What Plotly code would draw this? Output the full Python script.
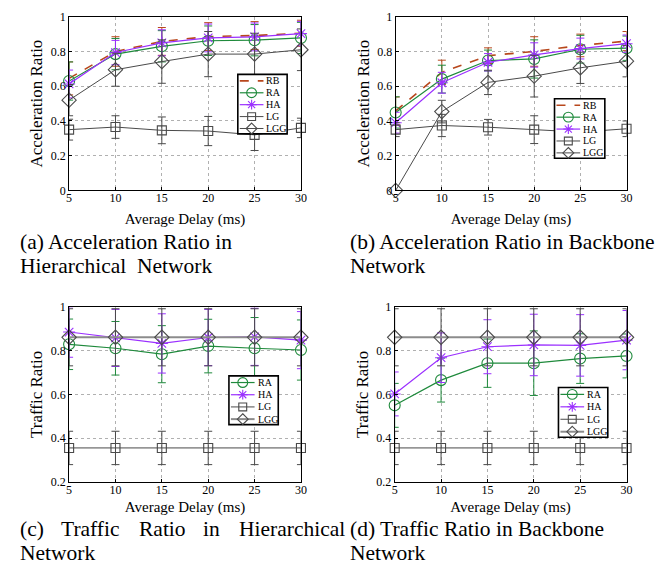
import plotly.graph_objects as go

W, H = 672, 577
delay = [5, 10, 15, 20, 25, 30]
x_ticks = [5, 10, 15, 20, 25, 30]

# (a) Acceleration Ratio in Hierarchical Network
a_RB = [0.645, 0.80, 0.858, 0.886, 0.892, 0.905]
a_RB_err = [0.095, 0.085, 0.08, 0.08, 0.08, 0.075]
a_RA = [0.63, 0.785, 0.83, 0.862, 0.865, 0.878]
a_RA_err = [0.11, 0.09, 0.09, 0.085, 0.09, 0.09]
a_HA = [0.613, 0.794, 0.85, 0.878, 0.884, 0.903]
a_HA_err = [0.08, 0.07, 0.075, 0.08, 0.08, 0.07]
a_LG = [0.35, 0.365, 0.346, 0.342, 0.32, 0.36]
a_LG_err = [0.06, 0.065, 0.077, 0.084, 0.09, 0.056]
a_LGG = [0.52, 0.695, 0.742, 0.785, 0.785, 0.81]
a_LGG_err = [0.09, 0.095, 0.125, 0.13, 0.12, 0.12]

# (b) Acceleration Ratio in Backbone Network
b_RB = [0.458, 0.68, 0.776, 0.80, 0.835, 0.86]
b_RB_err = [0.08, 0.07, 0.045, 0.085, 0.065, 0.055]
b_RA = [0.449, 0.641, 0.748, 0.757, 0.813, 0.819]
b_RA_err = [0.09, 0.08, 0.06, 0.11, 0.08, 0.07]
b_HA = [0.39, 0.62, 0.738, 0.78, 0.817, 0.845]
b_HA_err = [0.06, 0.06, 0.05, 0.07, 0.06, 0.05]
b_LG = [0.35, 0.374, 0.364, 0.35, 0.336, 0.355]
b_LG_err = [0.04, 0.064, 0.045, 0.08, 0.06, 0.045]
b_LGG = [0.0, 0.454, 0.622, 0.658, 0.706, 0.744]
b_LGG_err = [0.0, 0.065, 0.07, 0.12, 0.09, 0.09]

# (c) Traffic Ratio in Hierarchical Network
c_RA = [0.828, 0.81, 0.783, 0.82, 0.81, 0.802]
c_RA_err = [0.115, 0.122, 0.13, 0.122, 0.14, 0.137]
c_HA = [0.884, 0.857, 0.832, 0.859, 0.862, 0.847]
c_HA_err = [0.115, 0.13, 0.135, 0.128, 0.13, 0.13]
c_LG = [0.356, 0.356, 0.356, 0.356, 0.356, 0.356]
c_LG_err = [0.076, 0.076, 0.076, 0.076, 0.076, 0.076]
c_LGG = [0.86, 0.86, 0.86, 0.86, 0.86, 0.86]
c_LGG_err = [0.13, 0.13, 0.13, 0.13, 0.13, 0.13]

# (d) Traffic Ratio in Backbone Network
d_RA = [0.55, 0.665, 0.742, 0.742, 0.763, 0.775]
d_RA_err = [0.1, 0.1, 0.11, 0.147, 0.113, 0.1]
d_HA = [0.602, 0.767, 0.817, 0.825, 0.823, 0.847]
d_HA_err = [0.1, 0.113, 0.123, 0.14, 0.14, 0.135]
d_LG = [0.356, 0.356, 0.356, 0.356, 0.356, 0.356]
d_LG_err = [0.076, 0.076, 0.076, 0.076, 0.076, 0.076]
d_LGG = [0.86, 0.86, 0.86, 0.86, 0.86, 0.86]
d_LGG_err = [0.13, 0.13, 0.13, 0.13, 0.13, 0.13]

# caption words (justified lines are laid out word by word)
cap_a1 = ["(a) Acceleration Ratio in"]
cap_a2 = ["Hierarchical", "Network"]
cap_b1 = ["(b) Acceleration Ratio in Backbone"]
cap_b2 = ["Network"]
cap_c1 = ["(c)", "Traffic", "Ratio", "in", "Hierarchical"]
cap_c2 = ["Network"]
cap_d1 = ["(d) Traffic Ratio in Backbone"]
cap_d2 = ["Network"]

FONT = "Liberation Serif"
C_RB = "#b8471c"
C_RA = "#1f8a3c"
C_HA = "#9b30ff"
C_LG = "#4a4a4a"
C_LGG = "#4a4a4a"
C_LGG_LINE_T = "#8c8c8c"

styles = {
    "RB": dict(color=C_RB, dash="dash", width=1.6, symbol=None, size=0),
    "RA": dict(color=C_RA, dash="solid", width=1.2, symbol="circle-open", size=11),
    "HA": dict(color=C_HA, dash="solid", width=1.2, symbol="asterisk-open", size=10),
    "LG": dict(color=C_LG, dash="solid", width=1.0, symbol="square-open", size=9),
    "LGG": dict(color=C_LGG, dash="solid", width=1.0, symbol="diamond-open", size=11),
}

fig = go.Figure()


def px_x(p):
    return p / W


def px_y(p):
    return 1 - p / H


panels = [
    dict(xd=(67, 302), yd=(10, 188), yr=(0, 1), ytitle="Acceleration Ratio", tstand=9,
         series=[("RB", a_RB, a_RB_err), ("RA", a_RA, a_RA_err), ("HA", a_HA, a_HA_err),
                 ("LG", a_LG, a_LG_err), ("LGG", a_LGG, a_LGG_err)],
         leg=(238, 69, 288, 130),
         cap=[(cap_a1, [15], 241), (cap_a2, [15, 134], 265)]),
    dict(xd=(398, 632), yd=(10, 188), yr=(0, 1), ytitle="Acceleration Ratio", tstand=9,
         series=[("RB", b_RB, b_RB_err), ("RA", b_RA, b_RA_err), ("HA", b_HA, b_HA_err),
                 ("LG", b_LG, b_LG_err), ("LGG", b_LGG, b_LGG_err)],
         leg=(559, 94, 610, 155),
         cap=[(cap_b1, [350], 241), (cap_b2, [350], 265)]),
    dict(xd=(67, 302), yd=(307, 487), yr=(0.2, 1), ytitle="Traffic Ratio", tstand=5,
         series=[("RA", c_RA, c_RA_err), ("HA", c_HA, c_HA_err),
                 ("LG", c_LG, c_LG_err), ("LGG", c_LGG, c_LGG_err)],
         leg=(229, 378, 279, 428),
         cap=[(cap_c1, [15, 57, 136, 201, 237], 535), (cap_c2, [15], 560)]),
    dict(xd=(397, 632), yd=(307, 487), yr=(0.2, 1), ytitle="Traffic Ratio", tstand=5,
         series=[("RA", d_RA, d_RA_err), ("HA", d_HA, d_HA_err),
                 ("LG", d_LG, d_LG_err), ("LGG", d_LGG, d_LGG_err)],
         leg=(563, 390, 613, 441),
         cap=[(cap_d1, [350], 535), (cap_d2, [350], 560)]),
]

layout = dict(width=W, height=H, margin=dict(l=0, r=0, t=0, b=0),
              paper_bgcolor="white", plot_bgcolor="white", showlegend=False,
              font=dict(family=FONT, color="black", size=12), annotations=[], shapes=[])


def glyph_shapes(symbol, cx, cy, color):
    """Legend marker glyph as paper-referenced shapes (pixel centre cx, cy)."""
    ln = dict(color=color, width=1.1)
    out = []
    if symbol == "circle-open":
        r = 5
        out.append(dict(type="circle", x0=px_x(cx - r), x1=px_x(cx + r),
                        y0=px_y(cy + r), y1=px_y(cy - r), line=ln, fillcolor="rgba(0,0,0,0)"))
    elif symbol == "square-open":
        r = 4
        out.append(dict(type="rect", x0=px_x(cx - r), x1=px_x(cx + r),
                        y0=px_y(cy + r), y1=px_y(cy - r), line=ln, fillcolor="rgba(0,0,0,0)"))
    elif symbol == "diamond-open":
        r = 5.5
        path = (f"M {px_x(cx)},{px_y(cy - r)} L {px_x(cx + r)},{px_y(cy)} "
                f"L {px_x(cx)},{px_y(cy + r)} L {px_x(cx - r)},{px_y(cy)} Z")
        out.append(dict(type="path", path=path, line=ln, fillcolor="rgba(0,0,0,0)"))
    elif symbol == "asterisk-open":
        r = 5
        d = r * 0.72
        path = (f"M {px_x(cx - r)},{px_y(cy)} L {px_x(cx + r)},{px_y(cy)} "
                f"M {px_x(cx)},{px_y(cy - r)} L {px_x(cx)},{px_y(cy + r)} "
                f"M {px_x(cx - d)},{px_y(cy - d)} L {px_x(cx + d)},{px_y(cy + d)} "
                f"M {px_x(cx - d)},{px_y(cy + d)} L {px_x(cx + d)},{px_y(cy - d)}")
        out.append(dict(type="path", path=path, line=ln))
    for o in out:
        o.update(xref="paper", yref="paper", layer="above")
    return out


for i, p in enumerate(panels):
    n = i + 1
    xa = "x" if n == 1 else f"x{n}"
    ya = "y" if n == 1 else f"y{n}"
    is_traffic = p["yr"][0] > 0
    for name, vals, err in p["series"]:
        s = styles[name]
        lw = s["width"]
        col = s["color"]
        if is_traffic and name == "LGG":
            col = C_LGG_LINE_T
            lw = 2.0
        mode = "lines" if s["symbol"] is None else "lines+markers"
        tr = go.Scatter(
            x=delay, y=vals, name=name, mode=mode, xaxis=xa, yaxis=ya,
            line=dict(color=col, width=lw, dash=s["dash"]),
            error_y=dict(type="data", array=err, visible=True, color=s["color"],
                         thickness=1.0, width=4),
            cliponaxis=False,
        )
        if s["symbol"] is not None:
            tr.marker = dict(symbol=s["symbol"], size=s["size"], color=s["color"],
                             line=dict(width=1.1, color=s["color"]))
        fig.add_trace(tr)

    layout["xaxis" if n == 1 else f"xaxis{n}"] = dict(
        domain=[px_x(p["xd"][0]), px_x(p["xd"][1])], range=[5, 30], anchor=ya,
        tickvals=x_ticks, ticks="inside", ticklen=3, tickcolor="black",
        showline=True, linecolor="black", linewidth=1, mirror=True,
        showgrid=True, gridcolor="#b0b0b0", griddash="dot", gridwidth=1,
        zeroline=False, tickfont=dict(size=12, family=FONT), ticklabelstandoff=-4,
        title=dict(text="Average Delay (ms)", font=dict(size=15, family=FONT),
                   standoff=p["tstand"]),
    )
    layout["yaxis" if n == 1 else f"yaxis{n}"] = dict(
        domain=[px_y(p["yd"][1]), px_y(p["yd"][0])], range=list(p["yr"]), anchor=xa,
        dtick=0.2, tick0=0, ticks="inside", ticklen=3, tickcolor="black",
        showline=True, linecolor="black", linewidth=1, mirror=True,
        showgrid=True, gridcolor="#b0b0b0", griddash="dot", gridwidth=1,
        zeroline=False, tickfont=dict(size=12, family=FONT), tickformat="~g",
        title=dict(text=p["ytitle"], font=dict(size=17, family=FONT), standoff=3),
    )

    # ----- legend box drawn with shapes + annotations -----
    x0, y0, x1, y1 = p["leg"]
    layout["shapes"].append(dict(type="rect", xref="paper", yref="paper", layer="above",
                                 x0=px_x(x0), x1=px_x(x1), y0=px_y(y1), y1=px_y(y0),
                                 fillcolor="white", line=dict(color="black", width=1.6)))
    nrows = len(p["series"])
    for k, (name, _, _) in enumerate(p["series"]):
        s = styles[name]
        cy = y0 + (k + 0.55) * (y1 - y0) / nrows
        col = s["color"]
        lw = s["width"]
        if is_traffic and name == "LGG":
            col = C_LGG_LINE_T
            lw = 2.0
        layout["shapes"].append(dict(type="line", xref="paper", yref="paper", layer="above",
                                     x0=px_x(x0 + 2), x1=px_x(x0 + 26), y0=px_y(cy), y1=px_y(cy),
                                     line=dict(color=col, width=lw, dash=s["dash"])))
        if s["symbol"] is not None:
            layout["shapes"].extend(glyph_shapes(s["symbol"], x0 + 14, cy, s["color"]))
        layout["annotations"].append(dict(
            text=name, x=px_x(x0 + 27), y=px_y(cy), xref="paper", yref="paper",
            xanchor="left", yanchor="middle", showarrow=False,
            font=dict(size=10, family=FONT, color="black")))

    # ----- captions -----
    for words, xs, yc in p["cap"]:
        for wtxt, xw in zip(words, xs):
            layout["annotations"].append(dict(
                text=wtxt, x=px_x(xw), y=px_y(yc), xref="paper", yref="paper",
                xanchor="left", yanchor="middle", align="left", showarrow=False,
                font=dict(size=21.5, family=FONT, color="black")))

fig.update_layout(**layout)
fig.write_html("out.html")
